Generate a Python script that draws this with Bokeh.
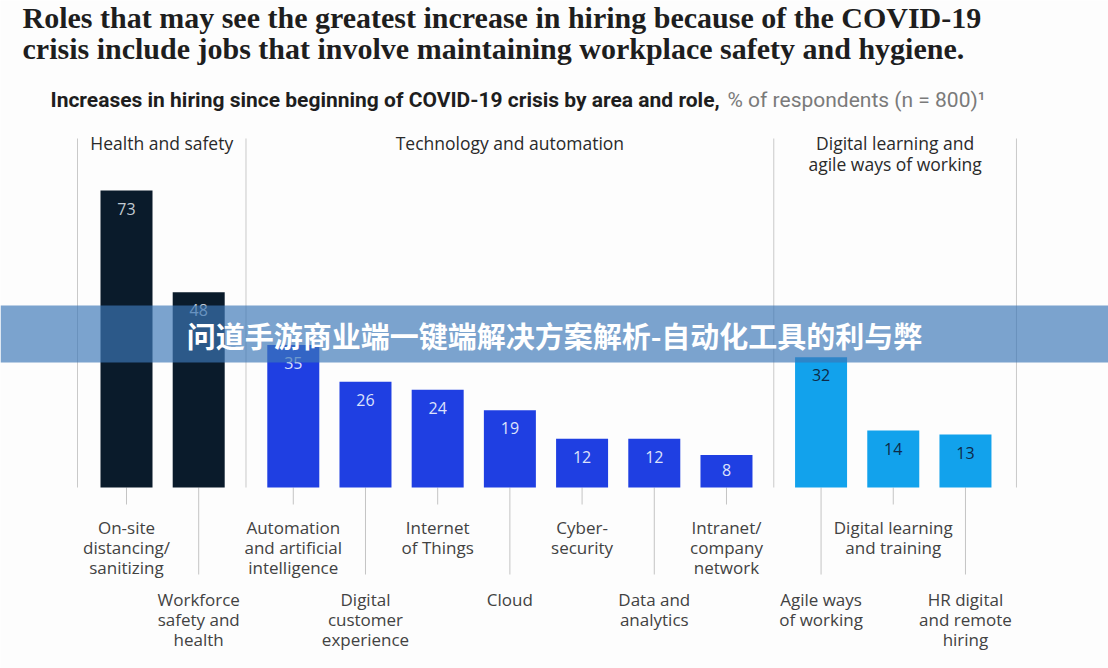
from bokeh.plotting import figure
from bokeh.models import Range1d
from bokeh.core.properties import value
from bokeh.embed import file_html
from bokeh.resources import INLINE

# ---------------- data ----------------
title_lines = [
    "Roles that may see the greatest increase in hiring because of the COVID-19",
    "crisis include jobs that involve maintaining workplace safety and hygiene.",
]
subtitle_bold = "Increases in hiring since beginning of COVID-19 crisis by area and role,"
subtitle_rest = "% of respondents (n = 800)\u00b9"
banner_text = "问道手游商业端一键端解决方案解析-自动化工具的利与弊"

areas = ["Health and safety", "Technology and automation",
         "Digital learning and\nagile ways of working"]
area_of_role = [0, 0, 1, 1, 1, 1, 1, 1, 1, 2, 2, 2]
roles = [
    "On-site\ndistancing/\nsanitizing",
    "Workforce\nsafety and\nhealth",
    "Automation\nand artificial\nintelligence",
    "Digital\ncustomer\nexperience",
    "Internet\nof Things",
    "Cloud",
    "Cyber-\nsecurity",
    "Data and\nanalytics",
    "Intranet/\ncompany\nnetwork",
    "Agile ways\nof working",
    "Digital learning\nand training",
    "HR digital\nand remote\nhiring",
]
values = [73, 48, 35, 26, 24, 19, 12, 12, 8, 32, 14, 13]

area_colors = ["#0a1b2b", "#1f3fe2", "#12a2ec"]
value_colors = ["#c3cbd3", "#dde2fb", "#0d2a48"]

# ---------------- layout ----------------
W, H = 1108, 668
BASE = 487          # pixel row of the baseline
K = 297 / 73        # pixels per percentage point
X0, STEP, GAP = 126, 72.2, 0.31
BAR_W = 52

xs = [X0 + STEP * (i + GAP * g) for i, g in enumerate(area_of_role)]
bar_colors = [area_colors[g] for g in area_of_role]
txt_colors = [value_colors[g] for g in area_of_role]

p = figure(width=W, height=H, x_range=Range1d(0, W), y_range=Range1d(H, 0),
           output_backend="svg", toolbar_location=None, min_border=0,
           x_axis_location=None, y_axis_location=None)
p.grid.visible = False
p.outline_line_color = None
p.background_fill_color = "#fdfdfd"
p.border_fill_color = "#fdfdfd"
p.extra_y_ranges = {"val": Range1d(start=(BASE - H) / K, end=BASE / K)}

SANS = value("Open Sans")

# separators between areas
sep_x = [xs[0] - 49]
for i in range(1, len(xs)):
    if area_of_role[i] != area_of_role[i - 1]:
        sep_x.append((xs[i] + xs[i - 1]) / 2)
sep_x.append(xs[-1] + 51)
p.segment(x0=sep_x, x1=sep_x, y0=[138] * len(sep_x), y1=[BASE] * len(sep_x),
          line_color="#c9c9c9", line_width=1)

# ticks under bars
tick_end = [BASE + (17 if i % 2 == 0 else 87) for i in range(len(xs))]
p.segment(x0=xs, x1=xs, y0=[BASE] * len(xs), y1=tick_end,
          line_color="#c4c4c4", line_width=1)

# bars
p.vbar(x=xs, top=values, bottom=0, width=BAR_W, y_range_name="val",
       fill_color=bar_colors, line_color=None)

# value labels
offs = [min(18, v * K * 0.45) for v in values]
p.text(x=xs, y=values, text=[str(v) for v in values], y_range_name="val",
       y_offset=offs, text_color=txt_colors, text_align="center",
       text_baseline="middle", text_font=SANS, text_font_size=value("16px"))

# role labels (alternating rows)
label_y = [515 if i % 2 == 0 else 587 for i in range(len(xs))]
p.text(x=xs, y=label_y, text=roles, text_align="center", text_baseline="top",
       text_color="#424242", text_font=SANS, text_font_size=value("17px"),
       text_line_height=0.87)

# area headers
area_x = [(sep_x[g] + sep_x[g + 1]) / 2 for g in range(len(areas))]
p.text(x=area_x, y=[130] * len(areas), text=areas, text_align="center",
       text_baseline="top", text_color="#2a2a2a", text_font=SANS,
       text_font_size=value("17.5px"), text_line_height=0.88)

# title
p.text(x=[22, 22], y=[17, 48], text=title_lines, text_align="left",
       text_baseline="middle", text_color="#1e1e1e",
       text_font=value("Liberation Serif"), text_font_style="bold",
       text_font_size=value("30px"))

# subtitle
p.text(x=[50], y=[99], text=[subtitle_bold], text_align="left",
       text_baseline="middle", text_color="#1e1e1e", text_font=value("Roboto"),
       text_font_style="bold", text_font_size=value("21px"))
p.text(x=[727], y=[99], text=[subtitle_rest], text_align="left",
       text_baseline="middle", text_color="#7a7a7a", text_font=value("Roboto"),
       text_font_size=value("21px"))

# banner overlay
p.quad(left=[0], right=[W], top=[305], bottom=[362],
       fill_color="#3c78b7", fill_alpha=0.68, line_color=None)
p.text(x=[W / 2], y=[334], text=[banner_text], text_align="center",
       text_baseline="middle", text_color="white",
       text_font=value("Noto Sans CJK SC"), text_font_style="bold",
       text_font_size=value("29px"))

open("out.html", "w").write(file_html(p, INLINE))
